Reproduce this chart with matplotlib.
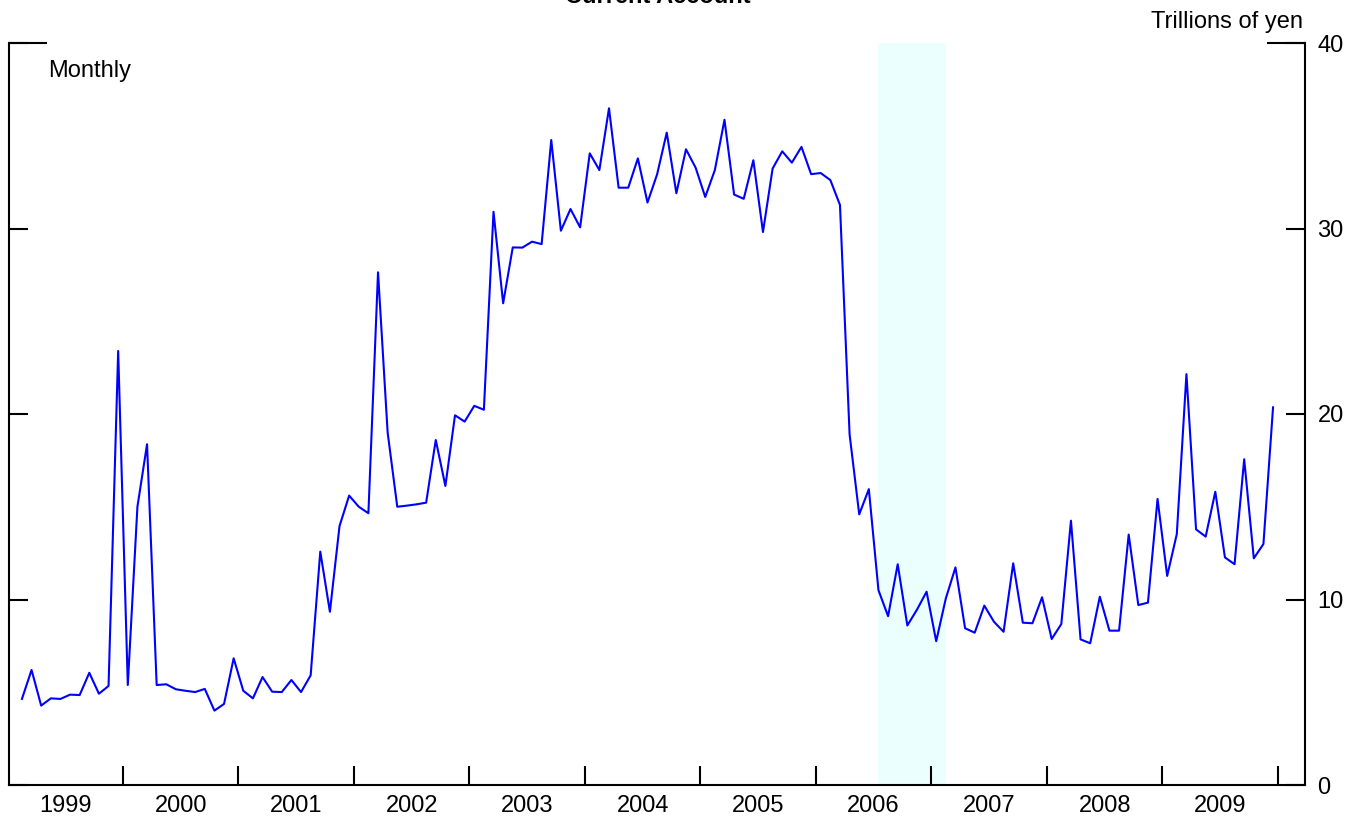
import numpy as np
import matplotlib
matplotlib.use('Agg')
import matplotlib.pyplot as plt

plt.rcParams['font.family'] = ['Liberation Sans', 'DejaVu Sans']

# current account balance, trillions of yen, monthly (1999 starts in Feb)
ca_1999 = [4.64, 6.2, 4.28, 4.67, 4.64, 4.87, 4.85, 6.05, 4.92, 5.34, 23.4]
ca_2000 = [5.39, 15.0, 18.37, 5.39, 5.43, 5.16, 5.08, 5.01, 5.18, 4.01, 4.37, 6.83]
ca_2001 = [5.08, 4.67, 5.82, 5.03, 5.01, 5.66, 5.01, 5.91, 12.58, 9.34, 13.96, 15.6]
ca_2002 = [15.0, 14.65, 27.64, 19.0, 15.0, 15.06, 15.13, 15.22, 18.6, 16.12, 19.93, 19.59]
ca_2003 = [20.44, 20.23, 30.9, 25.97, 28.98, 28.97, 29.29, 29.16, 34.77, 29.88, 31.05, 30.06]
ca_2004 = [34.05, 33.15, 36.48, 32.2, 32.2, 33.78, 31.4, 32.92, 35.17, 31.9, 34.27, 33.28]
ca_2005 = [31.7, 33.15, 35.86, 31.83, 31.6, 33.68, 29.81, 33.23, 34.16, 33.55, 34.4, 32.93]
ca_2006 = [32.99, 32.61, 31.27, 18.9, 14.59, 15.95, 10.5, 9.1, 11.9, 8.6, 9.45, 10.42]
ca_2007 = [7.75, 10.06, 11.73, 8.45, 8.21, 9.67, 8.8, 8.26, 11.95, 8.75, 8.72, 10.12]
ca_2008 = [7.87, 8.68, 14.25, 7.85, 7.64, 10.15, 8.32, 8.32, 13.5, 9.7, 9.83, 15.42]
ca_2009 = [11.27, 13.53, 22.15, 13.78, 13.39, 15.81, 12.27, 11.9, 17.56, 12.22, 12.99, 20.36]

years = list(range(1999, 2010))
shade_start, shade_end = 2006.537, 2007.126

ca = (ca_1999 + ca_2000 + ca_2001 + ca_2002 + ca_2003 + ca_2004 + ca_2005
      + ca_2006 + ca_2007 + ca_2008 + ca_2009)
# mid-month positions in decimal years, first point is Feb 1999
x = 1999 + (np.arange(len(ca)) + 1.5) / 12

fig = plt.figure(figsize=(13.64, 8.23), dpi=100)
ax = fig.add_axes([9 / 1364, 1 - 785 / 823, (1305 - 9) / 1364, (785 - 43) / 823])

ax.axvspan(shade_start, shade_end, color='#ebffff', lw=0, zorder=0)
ax.plot(x, ca, color='blue', lw=1.5, zorder=2)

ax.set_xlim(1999.013, 2010.235)
ax.set_ylim(0, 40)

ax.spines['top'].set_visible(False)
for s in ['left', 'right', 'bottom']:
    ax.spines[s].set_linewidth(1.5)
    ax.spines[s].set_color('black')

# year boundaries as ticks, labels centred in each year
ax.set_xticks(range(2000, 2011))
ax.set_xticks([y + 0.5 for y in years], minor=True)
ax.set_xticklabels([str(y) for y in years], minor=True)
ax.tick_params(axis='x', which='major', direction='in', length=13.5, width=1.5,
               labelbottom=False)
ax.tick_params(axis='x', which='minor', length=0, pad=7.5, labelsize=17)

ax.set_yticks([0, 10, 20, 30, 40])
ax.yaxis.remove_overlapping_locs = False
ax.set_yticks([40], minor=True)
ax.tick_params(axis='y', which='major', direction='in', left=True, right=True,
               labelleft=False, labelright=True, length=13.7, width=1.5,
               pad=9, labelsize=17)
ax.tick_params(axis='y', which='minor', direction='in', left=True, right=True,
               length=27.4, width=1.5, labelleft=False, labelright=False)

# title sits partly above the top edge, as in the source image
fig.text(657.5 / 1364, 1 - 3 / 823, 'Current Account', ha='center', va='baseline',
         fontsize=17, fontweight='bold')
fig.text(1303 / 1364, 1 - 28 / 823, 'Trillions of yen', ha='right', va='baseline',
         fontsize=17)
fig.text(48 / 1364, 1 - 77.5 / 823, 'Monthly', ha='left', va='baseline', fontsize=17)

fig.savefig('out.png', dpi=100)
